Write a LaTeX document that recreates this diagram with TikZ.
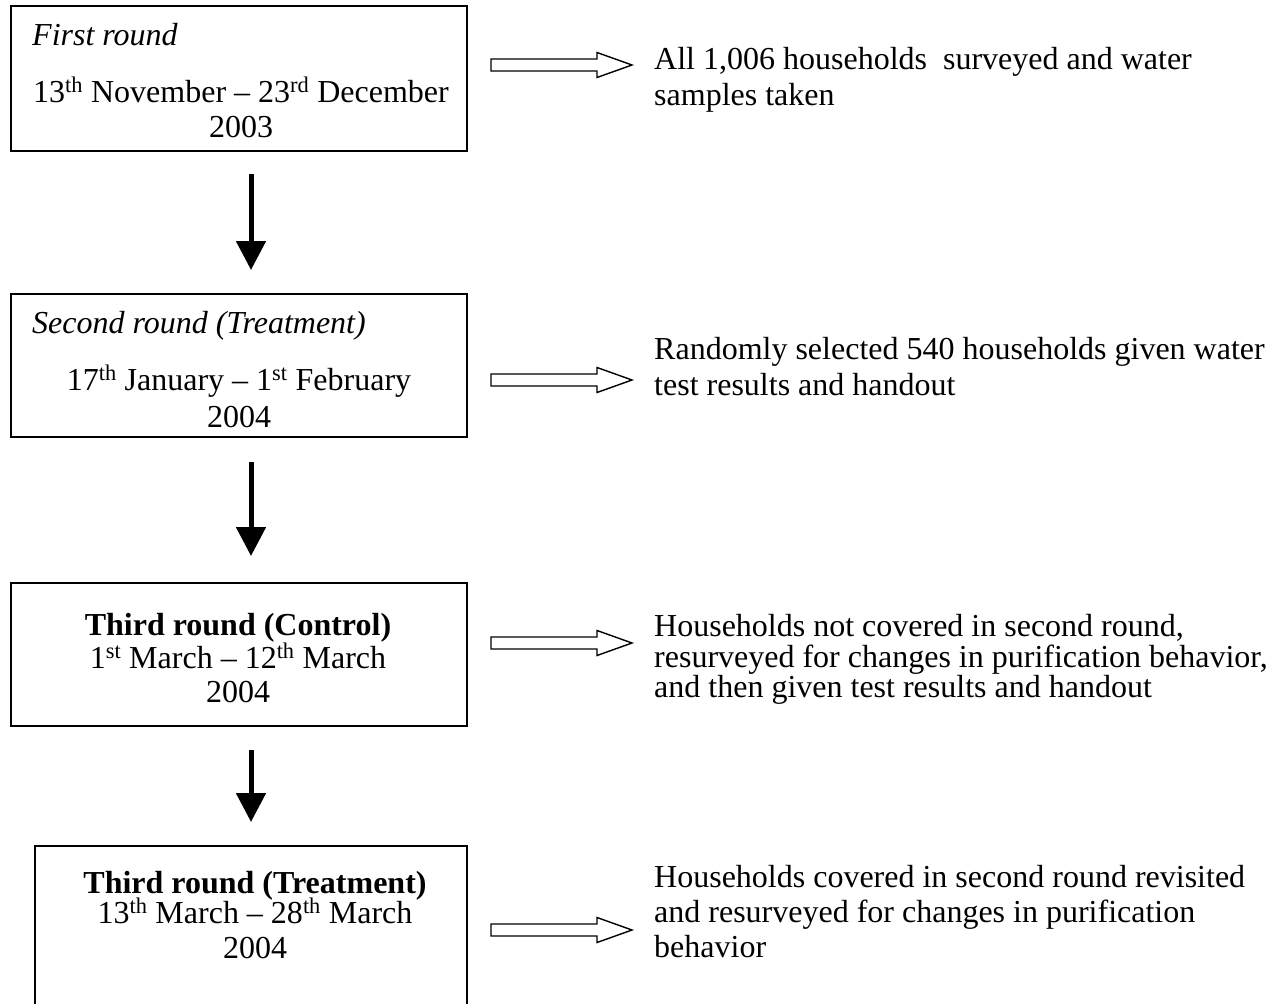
\documentclass[tikz,border=0pt]{standalone}
\usepackage{fontspec}
\setmainfont{Liberation Serif}
\usetikzlibrary{arrows.meta,calc}
\tikzset{
  x=1pt, y=-1pt,
  stagebox/.style={draw, line width=1.6pt, inner sep=0pt},
  txt/.style={inner sep=0pt, font=\fontsize{32pt}{35pt}\selectfont},
  ctr/.style={txt, anchor=base},
  lft/.style={txt, anchor=base west},
  downarrow/.style={line width=5pt, -{Triangle[width=29pt,length=29pt]}},
  hollow/.style={draw, line width=1.4pt, fill=white},
}
\newcommand{\hollowarrow}[1]{%
  \draw[hollow] ($(#1)+(0,-6)$) -- ++(106,0) -- ++(0,-6.5) -- ++(35,12.5) -- ++(-35,12.5) -- ++(0,-6.5) -- ++(-106,0) -- cycle;}
\begin{document}
\begin{tikzpicture}
\useasboundingbox (0,0) rectangle (1283,1004);
% boxes
\node[stagebox, minimum width=456pt, minimum height=145pt] (b1) at (239,78.5) {};
\node[stagebox, minimum width=456pt, minimum height=143pt] (b2) at (239,365.5) {};
\node[stagebox, minimum width=456pt, minimum height=143pt] (b3) at (239,654.5) {};
\node[stagebox, minimum width=432pt, minimum height=190pt] (b4) at (251,941) {};
% box texts
\node[lft] (t1a) at (32,45) {\textit{First round}};
\node[ctr] (t1b) at (241,102) {13\textsuperscript{th} November -- 23\textsuperscript{rd} December};
\node[ctr] (t1c) at (241,137) {2003};
\node[lft] (t2a) at (32,333) {\textit{Second round (Treatment)}};
\node[ctr] (t2b) at (239,390) {17\textsuperscript{th} January -- 1\textsuperscript{st} February};
\node[ctr] (t2c) at (239,427) {2004};
\node[ctr] (t3a) at (238,635) {\textbf{Third round (Control)}};
\node[ctr] (t3b) at (238,668) {1\textsuperscript{st} March -- 12\textsuperscript{th} March};
\node[ctr] (t3c) at (238,702) {2004};
\node[ctr] (t4a) at (255,893) {\textbf{Third round (Treatment)}};
\node[ctr] (t4b) at (255,923) {13\textsuperscript{th} March -- 28\textsuperscript{th} March};
\node[ctr] (t4c) at (255,958) {2004};
% right texts
\node[lft] (r1a) at (654,69) {All 1,006 households\ \ surveyed and water};
\node[lft] (r1b) at (654,105) {samples taken};
\node[lft] (r2a) at (654,359) {Randomly selected 540 households given water};
\node[lft] (r2b) at (654,395) {test results and handout};
\node[lft] (r3a) at (654,636) {Households not covered in second round,};
\node[lft] (r3b) at (654,667) {resurveyed for changes in purification behavior,};
\node[lft] (r3c) at (654,697) {and then given test results and handout};
\node[lft] (r4a) at (654,887) {Households covered in second round revisited};
\node[lft] (r4b) at (654,922) {and resurveyed for changes in purification};
\node[lft] (r4c) at (654,957) {behavior};
% down arrows
\coordinate (d1s) at (251,174); \coordinate (d1e) at (251,270);
\coordinate (d2s) at (251,462); \coordinate (d2e) at (251,556);
\coordinate (d3s) at (251,750); \coordinate (d3e) at (251,822);
\draw[downarrow] (d1s) -- (d1e);
\draw[downarrow] (d2s) -- (d2e);
\draw[downarrow] (d3s) -- (d3e);
% hollow arrows
\coordinate (h1) at (491,65);
\coordinate (h2) at (491,380);
\coordinate (h3) at (491,643);
\coordinate (h4) at (491,930);
\hollowarrow{h1}
\hollowarrow{h2}
\hollowarrow{h3}
\hollowarrow{h4}
\end{tikzpicture}
\end{document}
